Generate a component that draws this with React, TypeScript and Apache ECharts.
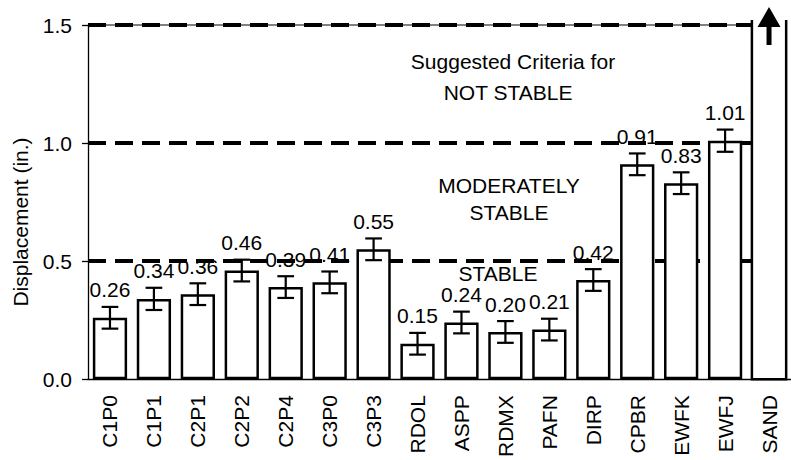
import React, { useEffect, useRef } from "react";
import * as echarts from "echarts";

const categories = ["C1P0", "C1P1", "C2P1", "C2P2", "C2P4", "C3P0", "C3P3", "RDOL", "ASPP", "RDMX", "PAFN", "DIRP", "CPBR", "EWFK", "EWFJ", "SAND"];
const displacement: (number | null)[] = [0.26, 0.34, 0.36, 0.46, 0.39, 0.41, 0.55, 0.15, 0.24, 0.2, 0.21, 0.42, 0.91, 0.83, 1.01, null];
const errorHalf: (number | null)[] = [0.046, 0.047, 0.046, 0.046, 0.046, 0.046, 0.046, 0.046, 0.046, 0.046, 0.046, 0.046, 0.046, 0.046, 0.047, null];
const offScaleCategory = "SAND";
const criteria = [0.5, 1.0, 1.5];
const yMin = 0;
const yMax = 1.5;
const yInterval = 0.5;
const annotations = [
  { text: "Suggested Criteria for", x: 513, y: 61 },
  { text: "NOT STABLE", x: 508, y: 92 },
  { text: "MODERATELY", x: 509, y: 185 },
  { text: "STABLE", x: 509, y: 212 },
  { text: "STABLE", x: 498, y: 273 },
];
const yTitle = "Displacement (in.)";

const FONT = "'Liberation Sans', Arial, Helvetica, sans-serif";
const FS = 21;
const BAR_FRAC = 0.78;

export default function App() {
  const ref = useRef<HTMLDivElement>(null);
  useEffect(() => {
    if (!ref.current) return;
    const chart = echarts.init(ref.current, null, { renderer: "svg" });
    const lastIdx = categories.indexOf(offScaleCategory);

    const errData = categories
      .map((c, i) => [i, displacement[i], errorHalf[i]])
      .filter((d) => d[1] != null);

    const option: any = {
      animation: false,
      backgroundColor: "#fff",
      grid: { left: 88, right: -5, top: 25, bottom: 79, containLabel: false },
      xAxis: {
        type: "category",
        data: categories,
        axisLine: { show: true, lineStyle: { color: "#000", width: 1.3 } },
        axisTick: { show: false },
        axisLabel: { rotate: 90, margin: 16, color: "#000", fontSize: FS, fontFamily: FONT, interval: 0 },
        splitLine: { show: false },
      },
      yAxis: {
        type: "value",
        min: yMin,
        max: yMax,
        interval: yInterval,
        axisLine: { show: true, lineStyle: { color: "#000", width: 1.3 } },
        axisTick: { show: true, inside: false, length: 6, lineStyle: { color: "#000", width: 1.3 } },
        axisLabel: { margin: 16, color: "#000", fontSize: FS, fontFamily: FONT, formatter: (v: number) => v.toFixed(1) },
        splitLine: { show: false },
      },
      graphic: [
        {
          type: "text",
          x: 20,
          y: 222,
          rotation: Math.PI / 2,
          style: { text: yTitle, fontSize: FS, fontFamily: FONT, fill: "#000", align: "center", verticalAlign: "middle" },
        },
        ...annotations.map((a) => ({
          type: "text",
          x: a.x,
          y: a.y,
          z: 10,
          style: { text: a.text, fontSize: FS, fontFamily: FONT, fill: "#000", align: "center", verticalAlign: "middle" },
        })),
      ],
      series: [
        {
          type: "custom",
          name: "criteria",
          z: 1,
          clip: false,
          data: criteria.map((v) => [lastIdx, v]),
          renderItem: (params: any, api: any) => {
            const v = api.value(1);
            const band = api.size([1, 0])[0];
            const p0 = api.coord([0, v]);
            const pEnd = api.coord([lastIdx, v]);
            const x0 = p0[0] - band / 2;
            const x1 = pEnd[0] - (band * BAR_FRAC) / 2;
            const children: any[] = [];
            if (v === yMax) {
              children.push({
                type: "line",
                shape: { x1: x0, y1: p0[1], x2: x1, y2: p0[1] },
                style: { stroke: "#000", lineWidth: 1 },
              });
            }
            children.push({
              type: "line",
              shape: { x1: x0, y1: p0[1], x2: x1, y2: p0[1] },
              style: { stroke: "#000", lineWidth: 4, lineDash: [18, 9] },
            });
            return { type: "group", children };
          },
        },
        {
          type: "bar",
          name: "Displacement",
          z: 2,
          data: displacement.map((v) => (v == null ? "-" : v)),
          barWidth: BAR_FRAC * 100 + "%",
          itemStyle: { color: "#fff", borderColor: "#000", borderWidth: 2.5 },
        },
        {
          type: "custom",
          name: "error",
          z: 3,
          clip: false,
          data: errData,
          renderItem: (params: any, api: any) => {
            const x = api.value(0);
            const v = api.value(1);
            const e = api.value(2);
            const top = api.coord([x, v + e]);
            const bot = api.coord([x, v - e]);
            const cap = api.size([1, 0])[0] * 0.19;
            const st = { stroke: "#000", lineWidth: 2.2 };
            return {
              type: "group",
              children: [
                { type: "line", shape: { x1: top[0], y1: top[1], x2: bot[0], y2: bot[1] }, style: st },
                { type: "line", shape: { x1: top[0] - cap, y1: top[1], x2: top[0] + cap, y2: top[1] }, style: st },
                { type: "line", shape: { x1: bot[0] - cap, y1: bot[1], x2: bot[0] + cap, y2: bot[1] }, style: st },
                {
                  type: "text",
                  x: top[0],
                  y: top[1] - 17,
                  style: { text: v.toFixed(2), fontSize: FS, fontFamily: FONT, fill: "#000", align: "center", verticalAlign: "middle" },
                },
              ],
            };
          },
        },
        {
          type: "custom",
          name: "offscale",
          z: 3,
          clip: false,
          data: [[lastIdx, yMax]],
          renderItem: (params: any, api: any) => {
            const x = api.value(0);
            const v = api.value(1);
            const band = api.size([1, 0])[0];
            const w = band * BAR_FRAC;
            const base = api.coord([x, 0]);
            const topY = api.coord([x, v])[1];
            const cx = base[0];
            const lt = topY - 5;
            return {
              type: "group",
              children: [
                {
                  type: "polyline",
                  shape: { points: [[cx - w / 2, lt], [cx - w / 2, base[1]], [cx + w / 2, base[1]], [cx + w / 2, lt]] },
                  style: { stroke: "#000", lineWidth: 2.5, fill: null },
                },
                {
                  type: "polygon",
                  shape: {
                    points: [
                      [cx, topY - 18],
                      [cx + 11.5, topY + 2],
                      [cx + 2.5, topY + 2],
                      [cx + 2.5, topY + 20],
                      [cx - 2.5, topY + 20],
                      [cx - 2.5, topY + 2],
                      [cx - 11.5, topY + 2],
                    ],
                  },
                  style: { fill: "#000" },
                },
              ],
            };
          },
        },
      ],
    };
    chart.setOption(option);
    return () => chart.dispose();
  }, []);
  return <div ref={ref} style={{ position: "fixed", left: 0, top: 0, width: 791, height: 460 }} />;
}
